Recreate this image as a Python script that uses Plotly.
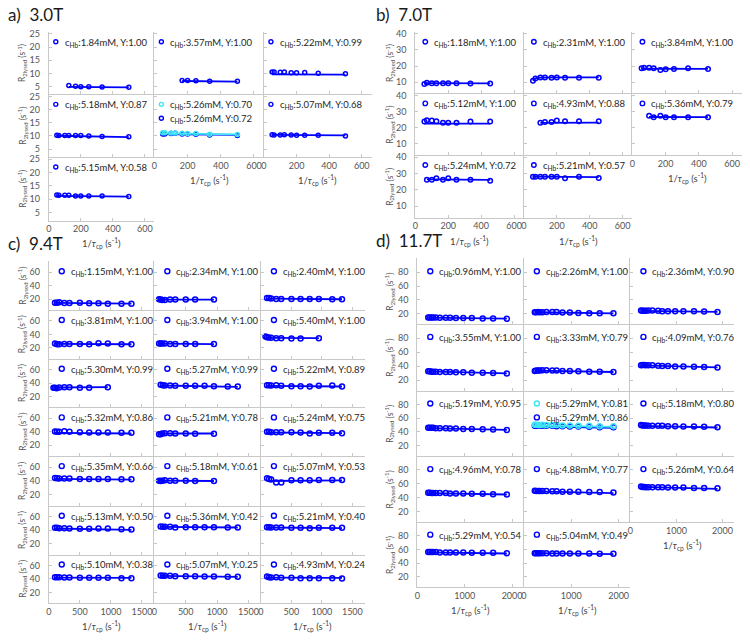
import plotly.graph_objects as go

W, H = 750, 640
BLUE = "#0000ff"
CYAN = "#3ee6f2"
AXIS = "#c8c8c8"
TXT = "#262626"
FONT = "Lato"

# ---------------- a) 3.0T ----------------
a_tau = [50, 62.5, 100, 125, 167, 200, 250, 333, 500]
a_first = [3, 4, 0, 0, 0, 0, 0]
a_conc = ["1.84", "3.57", "5.22", "5.18", "5.26", "5.07", "5.15"]
a_yfrac = ["1.00", "1.00", "0.99", "0.87", "0.72", "0.68", "0.58"]
a_r2 = [
    [5.4, 5.1, 4.9, 4.9, 4.8, 4.7],
    [7.3, 7.3, 7.2, 7.0, 7.0],
    [10.5, 10.5, 10.4, 10.5, 10.2, 10.2, 10.3, 10.1, 9.9],
    [10.3, 10.2, 10.2, 10.2, 10.2, 10.2, 10.0, 9.8, 9.7],
    [10.8, 10.8, 10.9, 11.0, 10.8, 10.8, 10.7, 10.4, 10.2],
    [10.5, 10.4, 10.4, 10.5, 10.4, 10.3, 10.3, 10.3, 10.0],
    [11.6, 11.5, 11.5, 11.5, 11.2, 11.2, 11.2, 11.2, 11.0],
]
a_fit = [[4.9, 4.7], [7.1, 6.9], [9.6, 9.5], [10.1, 9.6],
         [10.7, 10.4], [10.4, 10.2], [11.3, 11.0]]
a_cyan = dict(at=4, conc="5.26", yfrac="0.70",
              r2=[11.2, 11.2, 11.1, 11.1, 11.0, 10.9, 10.9, 10.7, 10.6],
              fit=[11.0, 10.6])

# ---------------- b) 7.0T ----------------
b_tau = [55, 70, 100, 128, 168, 200, 250, 335, 455]
b_first = [0, 0, 0, 0, 2, 2, 1, 0]
b_conc = ["1.18", "2.31", "3.84", "5.12", "4.93", "5.36", "5.24", "5.21"]
b_yfrac = ["1.00", "1.00", "1.00", "1.00", "0.88", "0.79", "0.72", "0.57"]
b_r2 = [
    [8.8, 9.6, 9.3, 9.3, 9.3, 9.3, 9.3, 9.2, 9.2],
    [10.8, 12.2, 12.9, 12.9, 12.8, 12.9, 12.8, 12.8, 12.8],
    [18.6, 18.9, 18.9, 18.6, 17.6, 18.0, 18.2, 18.6, 18.2],
    [23.8, 24.6, 24.5, 24.0, 23.1, 23.0, 23.0, 23.8, 23.8],
    [23.0, 23.5, 23.5, 24.5, 24.0, 24.0, 24.0],
    [27.4, 26.5, 27.3, 26.5, 26.5, 26.5, 26.5],
    [26.1, 26.1, 27.0, 26.1, 27.0, 26.1, 26.1, 25.5],
    [28.0, 28.0, 28.0, 28.0, 28.0, 28.0, 27.0, 28.0, 27.2],
]
b_fit = [[9.4, 9.2], [10.9, 12.3, 12.8, 12.9, 12.9, 12.9, 12.9, 12.9, 12.9],
         [18.3, 18.2], [22.5, 22.5], [23.0, 23.1], [26.6, 26.5],
         [26.3, 26.0], [28.0, 27.7]]

# ---------------- c) 9.4T ----------------
c_tau_long = [100, 133, 167, 250, 333, 500, 650, 800, 950, 1170, 1330]
c_tau_short = [75, 100, 125, 167, 250, 333, 500, 650, 950]
c_set = ["L", "S", "L", "L", "S", "S", "S", "L", "L", "L", "S",
         "L", "L", "S", "L", "L", "L", "L", "L", "L", "L"]
c_conc = ["1.15", "2.34", "2.40", "3.81", "3.94", "5.40", "5.30", "5.27",
          "5.22", "5.32", "5.21", "5.24", "5.35", "5.18", "5.07", "5.13",
          "5.36", "5.21", "5.10", "5.07", "4.93"]
c_yfrac = ["1.00", "1.00", "1.00", "1.00", "1.00", "1.00", "0.99", "0.99",
           "0.89", "0.86", "0.78", "0.75", "0.66", "0.61", "0.53", "0.50",
           "0.42", "0.40", "0.38", "0.25", "0.24"]
c_r2 = [
    [15, 15, 15.5, 14.5, 14.5, 15, 14, 14, 13.5, 13.5, 13.5],
    [20, 19.5, 19, 19, 19.5, 19.5, 19.5, 19.5, 19.5],
    [22, 22, 21, 20.5, 20.5, 20.5, 20.5, 20.5, 20.5, 20, 20],
    [26.5, 25.5, 25.5, 26, 26, 26, 25.5, 27, 26.5, 25.5, 25.5],
    [26.5, 26.5, 26.5, 26.5, 26, 26, 26, 26, 26],
    [37, 36, 35.5, 35, 34.5, 34.5, 34, 34, 34.5],
    [33, 33, 32.5, 33.5, 34, 34, 33, 33, 34],
    [37.5, 37, 36.5, 36.5, 36, 36, 36, 36, 35.5, 35, 35],
    [37, 37, 36.5, 37, 36, 35.5, 35.5, 35, 36, 36.5, 35],
    [40.5, 40, 40, 41, 40, 39.5, 39, 39, 39, 38.5, 38.5],
    [36.5, 36.5, 37.5, 38, 38, 37.5, 37.5, 37, 37],
    [40, 40, 39.5, 39.5, 39.5, 39.5, 39, 37.5, 38.5, 38.5, 38],
    [44.5, 44, 43.5, 43.5, 43.5, 43, 43, 43, 43, 42.5, 42.5],
    [40.5, 40, 40.5, 41, 40.5, 40.5, 40.5, 40, 40],
    [44, 43, 42, 38, 38, 41, 41, 41, 41.5, 41.5, 41.5],
    [43.5, 43.5, 43, 43, 42.5, 42, 42, 42.5, 42.5, 41.5, 41],
    [45.5, 45, 45, 45, 44, 44.5, 44.5, 44.5, 44.5, 44, 44],
    [44.5, 44.5, 44, 44, 44, 43.5, 43.5, 43, 43.5, 43.5, 43.5],
    [42.5, 42.5, 42.5, 42, 42, 41.5, 41.5, 41.5, 41.5, 41, 41],
    [45, 44.5, 44.5, 44.5, 44, 44, 44, 43.5, 43.5, 43, 43],
    [43.5, 42.5, 42, 42.5, 41.5, 41.5, 41, 41, 41, 41, 40.5],
]
c_fit = [[14.5, 13.5], [19.5, 19.5], [21, 20], [26, 25.5], [26.3, 25.8],
         [35, 34.5], [33.5, 34.2], [36.5, 34.5], [36, 35], [38.5, 37.5],
         [37.5, 37.5], [39, 38], [43, 42], [40.5, 40], [40, 41],
         [42.5, 40.5], [45, 44], [44, 43], [42, 41.5], [44.5, 43], [42, 41.5]]

# ---------------- d) 11.7T ----------------
d_tau = [230, 260, 300, 333, 390, 475, 600, 690, 815, 970, 1150, 1380, 1600, 1890]
d_conc = ["0.96", "2.26", "2.36", "3.55", "3.33", "4.09", "5.19", "5.29",
          "5.18", "4.96", "4.88", "5.26", "5.29", "5.04"]
d_yfrac = ["1.00", "1.00", "0.90", "1.00", "0.79", "0.76", "0.95", "0.86",
           "0.80", "0.78", "0.77", "0.64", "0.54", "0.49"]
d_r2 = [
    [14.5, 14.5, 14.5, 14.5, 14.5, 14, 14, 14, 13.5, 13.5, 13.5, 13, 13, 12.5],
    [22, 22, 22.5, 22, 22, 22.5, 22.5, 22.5, 21.5, 21.5, 21, 20.5, 20.5, 20.5],
    [24.5, 24, 24, 24, 24.5, 24.5, 24, 23.5, 23.5, 23.5, 23.5, 23.5, 23, 22.5],
    [32.5, 32.5, 32, 32, 32, 31.5, 31.5, 31.5, 31, 31, 30.5, 30.5, 30, 29.5],
    [33, 33.5, 33.5, 33.5, 34, 34, 33.5, 33.5, 33, 33, 32.5, 32, 32, 31.5],
    [41, 41.5, 41.5, 41, 41, 41, 40.5, 40, 40, 39.5, 39.5, 39, 38.5, 38],
    [46, 46, 46, 46, 45.5, 45.5, 45.5, 45, 45, 44.5, 44.5, 44, 43.5, 43],
    [49, 49, 49.5, 49.5, 49, 49, 49, 48.5, 48.5, 48, 48, 47.5, 47, 47],
    [50, 49.5, 49.5, 49.5, 49, 49, 49, 49, 48.5, 48.5, 48, 48, 47.5, 47],
    [47, 47, 46.5, 46.5, 46.5, 46.5, 46.5, 46, 46, 46, 45.5, 45.5, 45, 44.5],
    [50, 49.5, 49.5, 49.5, 49.5, 49.5, 49, 49, 48.5, 48.5, 48.5, 48, 48, 47.5],
    [56, 55.5, 55.5, 55, 55, 55, 55, 55, 54.5, 54.5, 54.5, 54, 54, 53.5],
    [56, 56, 56, 56, 56, 55.5, 55.5, 55.5, 55.5, 55.5, 55, 55, 55, 54.5],
    [54.5, 54.5, 54.5, 54.5, 54.5, 54.5, 54, 54, 54, 54, 54, 54, 53.5, 53.5],
]
d_fit = [[14.3, 12.8], [22, 20.5], [24, 22.5], [32.3, 29.5], [33.5, 31.5],
         [41, 38], [45.5, 43], [48, 46], [49, 46.5], [46.5, 44.5],
         [49, 46.5], [55.5, 52.5], [55.5, 54], [54.5, 53]]
d_cyan = dict(at=7, conc="5.29", yfrac="0.81",
              r2=[50.5, 50.5, 50, 50, 50.5, 50, 50, 50, 49.5, 49.5, 49, 49, 48.5, 48.5],
              fit=[49.5, 47.5])

fig = go.Figure()
axes = {}
annotations = []
shapes = []
count = [0]

AX = dict(showline=True, linecolor=AXIS, linewidth=1, ticks="inside", ticklen=3,
          tickcolor=AXIS, showgrid=False, zeroline=False,
          tickfont=dict(family=FONT, size=9, color="#555555"))


def px(x):
    return x / W


def py(y):
    return 1 - y / H


def add_panel(cols, rows, x_range, x_ticks, y_range, y_ticks, xs, r2, fit,
              conc, yfrac, leg_dx, leg_dy, ylab_x, msize, extra=None):
    n = len(r2)
    for i in range(n):
        count[0] += 1
        k = count[0]
        sx = "" if k == 1 else str(k)
        r, c = divmod(i, 3)
        x0, x1 = cols[c], cols[c + 1]
        y0, y1 = rows[r], rows[r + 1]
        bottom = i + 3 >= n
        axes["xaxis" + sx] = dict(domain=[px(x0), px(x1)], range=x_range,
                                  tickvals=x_ticks, anchor="y" + sx,
                                  showticklabels=bottom, **AX)
        axes["yaxis" + sx] = dict(domain=[py(y1), py(y0)], range=y_range,
                                  tickvals=y_ticks, anchor="x" + sx,
                                  showticklabels=(c == 0), ticklabelstandoff=6, **AX)
        has_extra = extra is not None and extra["at"] == i
        series = [(BLUE, r2[i], fit[i], conc[i], yfrac[i], 1 if has_extra else 0)]
        if has_extra:
            series.append((CYAN, extra["r2"], extra["fit"], extra["conc"], extra["yfrac"], 0))
        for col, yv, fv, cc, yy, slot in series:
            xv = xs[i]
            fx = xv if len(fv) == len(xv) else [xv[0], xv[-1]]
            fig.add_trace(go.Scatter(x=fx, y=fv, mode="lines", showlegend=False,
                                     line=dict(color=col, width=1.8),
                                     xaxis="x" + sx, yaxis="y" + sx))
            fig.add_trace(go.Scatter(x=xv, y=yv, mode="markers", showlegend=False,
                                     marker=dict(symbol="circle-open", size=msize, color=col,
                                                 line=dict(width=1.5, color=col)),
                                     xaxis="x" + sx, yaxis="y" + sx))
            gy = y0 + leg_dy + slot * 14
            shapes.append(dict(type="circle", xref="paper", yref="paper",
                               xsizemode="pixel", ysizemode="pixel",
                               xanchor=px(x0 + leg_dx), yanchor=py(gy),
                               x0=-msize / 2, x1=msize / 2, y0=-msize / 2, y1=msize / 2,
                               line=dict(color=col, width=1.4)))
            annotations.append(dict(text=f"c<sub>Hb</sub>:{cc}mM, Y:{yy}",
                                    x=px(x0 + leg_dx + 7), y=py(gy + 1), xref="paper",
                                    yref="paper", xanchor="left", yanchor="middle",
                                    showarrow=False, font=dict(family=FONT, size=9.5, color=TXT)))
        if c == 0:
            annotations.append(dict(text="R<sub>2lysed</sub> (s<sup>-1</sup>)",
                                    x=px(ylab_x), y=py((y0 + y1) / 2), xref="paper",
                                    yref="paper", xanchor="center", yanchor="middle",
                                    textangle=-90, showarrow=False,
                                    font=dict(family=FONT, size=8.5, color="#555555")))
        if bottom:
            annotations.append(dict(text="1/<i>τ</i><sub>cp</sub> (s<sup>-1</sup>)",
                                    x=px((x0 + x1) / 2), y=py(y1 + 23), xref="paper",
                                    yref="paper", xanchor="center", yanchor="middle",
                                    showarrow=False,
                                    font=dict(family=FONT, size=9.5, color="#444444")))


add_panel([46, 152, 262, 370], [28, 91, 154, 218], [0, 660], [0, 200, 400, 600],
          [2, 25.8], [5, 10, 15, 20, 25], [a_tau[f:] for f in a_first],
          a_r2, a_fit, a_conc, a_yfrac, 7, 10, 19, 4, a_cyan)
add_panel([414, 523, 632, 742], [28, 90, 152, 215], [0, 660], [0, 200, 400, 600],
          [3, 41.2], [10, 20, 30, 40], [b_tau[f:] for f in b_first],
          b_r2, b_fit, b_conc, b_yfrac, 10, 10, 388, 4.5)
add_panel([46, 152, 259, 363], [259, 308, 357, 406, 455, 505, 554, 603],
          [0, 1700], [0, 500, 1000, 1500], [4, 76], [20, 40, 60],
          [c_tau_long if s == "L" else c_tau_short for s in c_set],
          c_r2, c_fit, c_conc, c_yfrac, 13, 10, 19, 5)
add_panel([416, 523, 630, 734], [256, 322, 389, 455, 521, 587],
          [0, 2250], [0, 1000, 2000], [5, 100], [20, 40, 60, 80],
          [d_tau for _ in d_r2], d_r2, d_fit, d_conc, d_yfrac, 13, 13, 388, 5, d_cyan)

for label, x, y in [("a)\u00a0 3.0T", 3, 11), ("b)\u00a0 7.0T", 372, 11),
                    ("c)\u00a0 9.4T", 3, 241), ("d)\u00a0 11.7T", 372, 238)]:
    annotations.append(dict(text=label, x=px(x), y=py(y), xref="paper", yref="paper",
                            xanchor="left", yanchor="middle", showarrow=False,
                            font=dict(family=FONT, size=17, color="#1a1a1a")))

fig.update_layout(width=W, height=H, margin=dict(l=0, r=0, t=0, b=0),
                  paper_bgcolor="white", plot_bgcolor="white", showlegend=False,
                  annotations=annotations, shapes=shapes, **axes)

fig.write_html("out.html", config={"displayModeBar": False},
               post_script="document.body.style.margin='0px';")
